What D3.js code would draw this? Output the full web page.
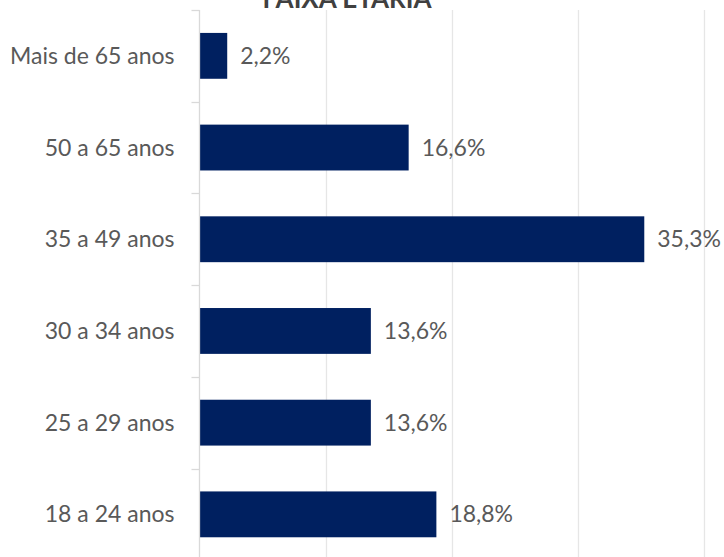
<!DOCTYPE html>
<html>
<head>
<meta charset="utf-8">
<script src="https://cdn.jsdelivr.net/npm/d3@7"></script>
<style>
  html, body { margin: 0; padding: 0; background: #ffffff; }
  svg { display: block; }
</style>
</head>
<body>
<svg id="chart" width="724" height="557"></svg>
<script>
const title = "FAIXA ETÁRIA";
const categories = ["Mais de 65 anos", "50 a 65 anos", "35 a 49 anos", "30 a 34 anos", "25 a 29 anos", "18 a 24 anos"];
const values = [2.2, 16.6, 35.3, 13.6, 13.6, 18.8];
const valueLabels = ["2,2%", "16,6%", "35,3%", "13,6%", "13,6%", "18,8%"];
const xTicks = [0, 10, 20, 30, 40];

const svg = d3.select("#chart");
const margin = { left: 199.5, top: 10, right: 20 };
const plotRight = 703.5;
const plotBottom = 10 + 91.7 * 6;

const x = d3.scaleLinear().domain([0, 40]).range([margin.left, plotRight]);
const y = d3.scaleBand().domain(categories).range([margin.top, plotBottom]).paddingInner(0.5).paddingOuter(0.25);
const yOuter = d3.scaleBand().domain(categories).range([margin.top, plotBottom]);

const font = "Lato, 'Open Sans', sans-serif";

// gridlines
svg.append("g").selectAll("line").data(xTicks.slice(1)).join("line")
  .attr("x1", d => Math.round(x(d)) + 0.5).attr("x2", d => Math.round(x(d)) + 0.5)
  .attr("y1", margin.top).attr("y2", plotBottom)
  .attr("stroke", "#e6e6e6").attr("stroke-width", 1.3);

// bars
svg.append("g").selectAll("rect").data(categories).join("rect")
  .attr("x", x(0))
  .attr("y", d => y(d))
  .attr("width", (d, i) => x(values[i]) - x(0))
  .attr("height", y.bandwidth())
  .attr("fill", "#002060");

// y axis
const gAxis = svg.append("g").attr("transform", `translate(${margin.left},0)`);
gAxis.append("line").attr("x1", 0).attr("x2", 0).attr("y1", margin.top).attr("y2", plotBottom)
  .attr("stroke", "#d9d9d9").attr("stroke-width", 1.3);
gAxis.selectAll("line.tk").data(categories).join("line").attr("class", "tk")
  .attr("x1", -8).attr("x2", 0)
  .attr("y1", d => Math.round(yOuter(d)) + 0.5).attr("y2", d => Math.round(yOuter(d)) + 0.5)
  .attr("stroke", "#d9d9d9").attr("stroke-width", 1.3);

gAxis.selectAll("text.cat").data(categories).join("text").attr("class", "cat")
  .attr("x", -25)
  .attr("y", d => yOuter(d) + yOuter.bandwidth() / 2)
  .attr("dy", "0.35em")
  .attr("text-anchor", "end")
  .attr("fill", "#595959")
  .style("font-family", font)
  .style("font-size", "23px")
  .text(d => d);

// value labels
svg.append("g").selectAll("text").data(categories).join("text")
  .attr("x", (d, i) => x(values[i]) + 13)
  .attr("y", d => y(d) + y.bandwidth() / 2)
  .attr("dy", "0.35em")
  .attr("fill", "#595959")
  .style("font-family", font)
  .style("font-size", "23px")
  .text((d, i) => valueLabels[i]);

// title
svg.append("text")
  .attr("x", 347).attr("y", 8)
  .attr("text-anchor", "middle")
  .attr("fill", "#404040")
  .style("font-family", font)
  .style("font-weight", "bold")
  .style("font-size", "26px")
  .text(title);
</script>
</body>
</html>
